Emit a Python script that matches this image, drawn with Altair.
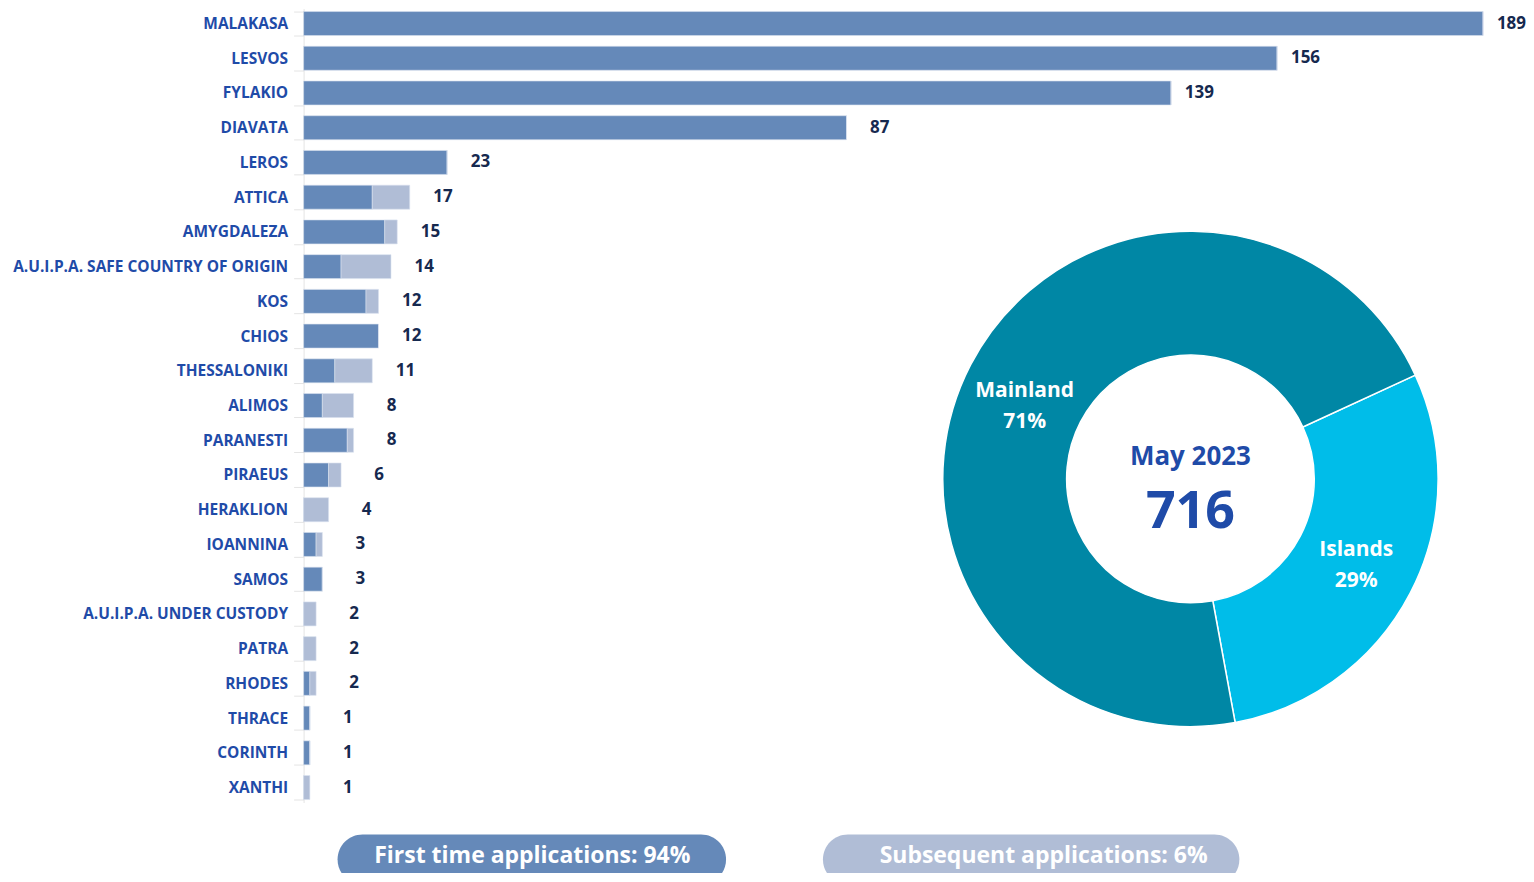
import math
import altair as alt
import pandas as pd

# ---------------- data ----------------
categories = ["MALAKASA", "LESVOS", "FYLAKIO", "DIAVATA", "LEROS", "ATTICA", "AMYGDALEZA",
              "A.U.I.P.A. SAFE COUNTRY OF ORIGIN", "KOS", "CHIOS", "THESSALONIKI", "ALIMOS",
              "PARANESTI", "PIRAEUS", "HERAKLION", "IOANNINA", "SAMOS",
              "A.U.I.P.A. UNDER CUSTODY", "PATRA", "RHODES", "THRACE", "CORINTH", "XANTHI"]
first_time = [189, 156, 139, 87, 23, 11, 13, 6, 10, 12, 5, 3, 7, 4, 0, 2, 3, 0, 0, 1, 1, 1, 0]
subsequent = [0, 0, 0, 0, 0, 6, 2, 8, 2, 0, 6, 5, 1, 2, 4, 1, 0, 2, 2, 1, 0, 0, 1]
totals = [189, 156, 139, 87, 23, 17, 15, 14, 12, 12, 11, 8, 8, 6, 4, 3, 3, 2, 2, 2, 1, 1, 1]

regions = ["Islands", "Mainland"]
region_share = [29, 71]

center_title = "May 2023"
center_total = "716"

pill_labels = ["First time applications: 94%", "Subsequent applications: 6%"]

# ---------------- styling ----------------
DARK = "#6589B9"
LIGHT = "#B0BDD6"
TEAL = "#0087A5"
CYAN = "#00BDE9"
LABEL_BLUE = "#1F4BA8"
NUM_NAVY = "#16294F"
FONT = "Open Sans"

color_scale = alt.Scale(domain=["First time", "Subsequent", "Islands", "Mainland"],
                        range=[DARK, LIGHT, CYAN, TEAL])

rows = []
for c, f, s in zip(categories, first_time, subsequent):
    rows.append({"category": c, "type": "First time", "value": f, "ord": 0})
    rows.append({"category": c, "type": "Subsequent", "value": s, "ord": 1})
bars_df = pd.DataFrame(rows)
tot_df = pd.DataFrame({"category": categories, "total": totals})

y_enc = alt.Y("category:N", sort=categories,
              scale=alt.Scale(paddingInner=0.31, paddingOuter=0.086),
              axis=alt.Axis(title=None, labelFont=FONT, labelFontWeight="bold",
                            labelFontSize=15.5, labelColor=LABEL_BLUE, labelPadding=6,
                            tickSize=10, tickColor="#E4E4E4", tickBand="extent",
                            domainColor="#E4E4E4", labelLimit=400))
x_scale = alt.Scale(domain=[0, 189], nice=False)

bars = alt.Chart(bars_df).mark_bar(stroke="#D9E1EE", strokeWidth=0.6).encode(
    y=y_enc,
    x=alt.X("value:Q", stack="zero", scale=x_scale, axis=None),
    color=alt.Color("type:N", scale=color_scale, legend=None),
    order=alt.Order("ord:Q"),
)

nums = alt.Chart(tot_df).mark_text(align="right", baseline="middle", dx=43,
                                   font=FONT, fontWeight="bold", fontSize=17,
                                   color=NUM_NAVY).encode(
    y=alt.Y("category:N", sort=categories),
    x=alt.X("total:Q", scale=x_scale),
    text="total:Q",
)

# ---------------- donut ----------------
start = math.radians(65.2)
donut_df = pd.DataFrame({
    "region": regions,
    "share": region_share,
    "ord": [0, 1],
    "label": [f"{r}\n{s}%" for r, s in zip(regions, region_share)],
})
theta_scale = alt.Scale(range=[start, start + 2 * math.pi], nice=False)
CX, CY = 888, 471

donut = alt.Chart(donut_df).mark_arc(innerRadius=124, outerRadius=248,
                                     stroke="white", strokeWidth=1.5).encode(
    theta=alt.Theta("share:Q", stack=True, scale=theta_scale),
    color=alt.Color("region:N", scale=color_scale, legend=None),
    order=alt.Order("ord:Q"),
    x=alt.value(CX), y=alt.value(CY),
)


def region_label(region, dy):
    return alt.Chart(donut_df).transform_window(
        cum="sum(share)", sort=[alt.SortField("ord")], frame=[None, 0]
    ).transform_calculate(
        mid="datum.cum - datum.share / 2"
    ).transform_filter(
        alt.datum.region == region
    ).mark_text(radius=187, dy=dy, lineBreak="\n", font=FONT, fontWeight="bold",
                fontSize=21, lineHeight=31, color="white", baseline="middle",
                align="center").encode(
        theta=alt.Theta("mid:Q", stack=None, scale=theta_scale),
        text="label:N",
        x=alt.value(CX), y=alt.value(CY),
    )


lab_main = region_label("Mainland", -2)
lab_isl = region_label("Islands", -15)

center_df = pd.DataFrame({"t": [center_title], "n": [center_total]})
center1 = alt.Chart(center_df).mark_text(font=FONT, fontWeight="bold", fontSize=26,
                                         color=LABEL_BLUE, align="center",
                                         baseline="middle").encode(
    text="t:N", x=alt.value(CX), y=alt.value(CY - 22))
center2 = alt.Chart(center_df).mark_text(font=FONT, fontWeight="bold", fontSize=52,
                                         color=LABEL_BLUE, align="center",
                                         baseline="middle").encode(
    text="n:N", x=alt.value(CX), y=alt.value(CY + 33))

# ---------------- pills ----------------
pill1_df = pd.DataFrame({"t": [pill_labels[0]]})
pill2_df = pd.DataFrame({"t": [pill_labels[1]]})
pill1 = alt.Chart(pill1_df).mark_rect(cornerRadius=25, color=DARK).encode(
    x=alt.value(34), x2=alt.value(423), y=alt.value(827), y2=alt.value(877))
pill1_t = alt.Chart(pill1_df).mark_text(font=FONT, fontWeight="bold", fontSize=23,
                                        color="white", align="center",
                                        baseline="middle").encode(
    text="t:N", x=alt.value(229), y=alt.value(849))
pill2 = alt.Chart(pill2_df).mark_rect(cornerRadius=25, color=LIGHT).encode(
    x=alt.value(520), x2=alt.value(937), y=alt.value(827), y2=alt.value(877))
pill2_t = alt.Chart(pill2_df).mark_text(font=FONT, fontWeight="bold", fontSize=23,
                                        color="white", align="center",
                                        baseline="middle").encode(
    text="t:N", x=alt.value(741), y=alt.value(849))

chart = alt.layer(
    bars, nums, donut, lab_main, lab_isl, center1, center2,
    pill1, pill1_t, pill2, pill2_t
).resolve_scale(
    color="shared"
).properties(
    width=1181, height=795,
    autosize=alt.AutoSizeParams(type="none"),
    padding={"left": 296, "top": 0, "right": 43, "bottom": 70},
    background="white",
).configure_view(stroke=None)

chart.save("out.html", embed_options={"renderer": "svg", "actions": False})
